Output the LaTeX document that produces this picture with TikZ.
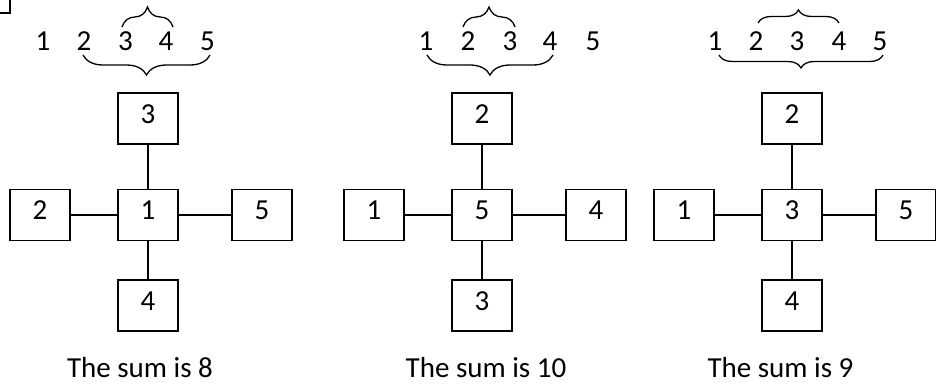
\documentclass[tikz,border=0pt]{standalone}
\usepackage{fontspec}
\setmainfont{Carlito}
\usetikzlibrary{decorations.pathreplacing}

\tikzset{
  numfont/.style={font=\fontsize{29}{35}\selectfont},
  cell/.style={draw, line width=1.5pt, minimum width=60pt, minimum height=51pt,
               inner sep=0pt, text height=18pt, text depth=9pt, numfont},
  link/.style={line width=1.5pt},
  seq/.style={numfont, anchor=base, inner sep=0pt},
  caption/.style={numfont, anchor=base, inner sep=0pt},
  grouping/.style={decorate, line width=1.3pt,
                   decoration={brace, amplitude=#1}},
  grouping/.default=20pt
}

% one cross of five cells: #1 name prefix, #2 x of the middle column,
% #3 centre, #4 top, #5 left, #6 right, #7 bottom
\newcommand\crossgraph[7]{%
  \node[cell] (#1c) at (#2,215) {#3};
  \node[cell] (#1t) at (#2,118.5) {#4};
  \node[cell] (#1l) at (#2-108,215) {#5};
  \node[cell] (#1r) at (#2+114,215) {#6};
  \node[cell] (#1b) at (#2,305.5) {#7};
  \draw[link] (#1c) -- (#1t);
  \draw[link] (#1c) -- (#1b);
  \draw[link] (#1c) -- (#1l);
  \draw[link] (#1c) -- (#1r);
}

\begin{document}
\begin{tikzpicture}[x=1pt, y=-1pt]
\useasboundingbox (0,0) rectangle (936,383);

% corner mark
\coordinate (m1) at (0,13);
\coordinate (m2) at (10,13);
\coordinate (m3) at (10,0);
\draw[line width=1.4pt] (m1) -- (m2) -- (m3);

% first arrangement
\foreach \v/\x in {1/43, 2/84, 3/125.5, 4/166, 5/207.5}
  \node[seq] (A\v) at (\x,50) {\v};
\draw[grouping] (122,27) -- (173,27);
\draw[grouping] (210,55) -- (83,55);
\crossgraph{A}{148}{1}{3}{2}{5}{4}
\node[caption] (Asum) at (140,377) {The sum is 8};

% second arrangement
\foreach \v/\x in {1/426, 2/468, 3/510, 4/550, 5/593}
  \node[seq] (B\v) at (\x,50) {\v};
\draw[grouping] (463,27) -- (515,27);
\draw[grouping] (553,55) -- (427,55);
\crossgraph{B}{482}{5}{2}{1}{4}{3}
\node[caption] (Bsum) at (486,377) {The sum is 10};

% third arrangement
\foreach \v/\x in {1/715, 2/756, 3/797, 4/839, 5/880}
  \node[seq] (C\v) at (\x,50) {\v};
\draw[grouping=13pt] (758,23) -- (839,23);
\draw[grouping=13pt] (883,55) -- (719,55);
\crossgraph{C}{792}{3}{2}{1}{5}{4}
\node[caption] (Csum) at (780.5,377) {The sum is 9};
\end{tikzpicture}
\end{document}
